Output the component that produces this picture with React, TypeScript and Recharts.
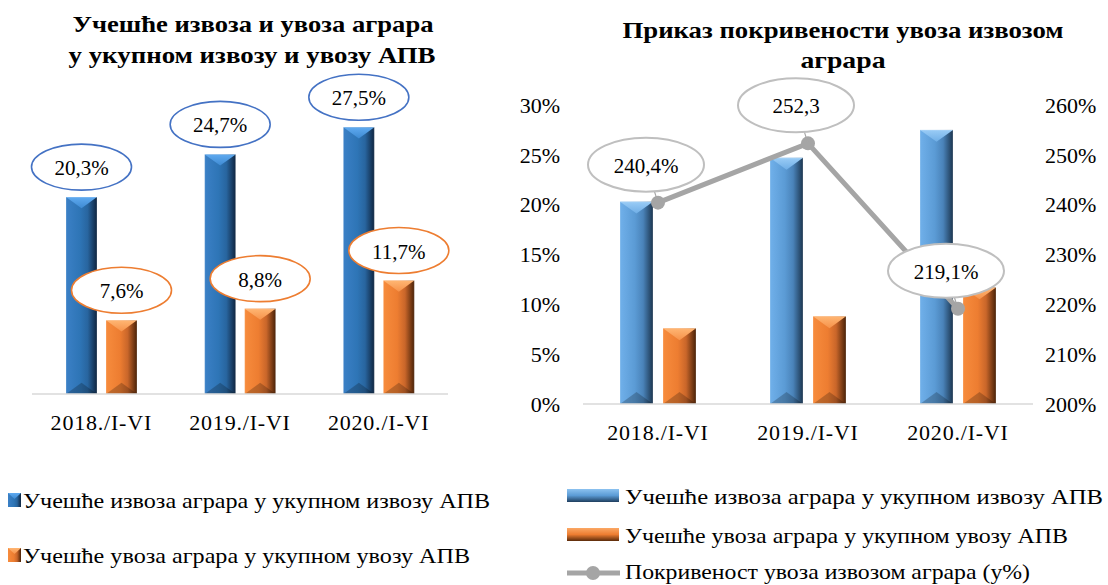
import React from 'react';
import { BarChart, ComposedChart, Bar, Line, XAxis, YAxis, LabelList } from 'recharts';

const categories = ['2018./I-VI', '2019./I-VI', '2020./I-VI'];
const exportShare = [20.3, 24.7, 27.5];
const importShare = [7.6, 8.8, 11.7];
const coverage = [240.4, 252.3, 219.1];
const coverageLabels = ['240,4%', '252,3', '219,1%'];
const leftTicks = [0, 5, 10, 15, 20, 25, 30];
const rightTicks = [200, 210, 220, 230, 240, 250, 260];

const leftTitle = ['Учешће извоза и увоза аграра', 'у укупном извозу и увозу АПВ'];
const rightTitle = ['Приказ покривености увоза извозом', 'аграра'];
const seriesNames = [
  'Учешће извоза аграра у укупном извозу АПВ',
  'Учешће увоза аграра у укупном увозу АПВ',
  'Покривеност увоза извозом аграра (у%)',
];

const data = categories.map((c, i) => ({
  name: c,
  exp: exportShare[i],
  imp: importShare[i],
  cov: coverage[i],
  covLabel: coverageLabels[i],
}));

const FONT = "'Liberation Serif', 'Times New Roman', serif";
const fmt = (v: number) => v.toFixed(1).replace('.', ',') + '%';

const makeBevelBar = (g: string) => (props: any) => {
  const { x, y, width: w, height: h } = props;
  if (!h || h <= 0) return null;
  const b = Math.min(w * 0.36, h / 2);
  return (
    <g>
      <rect x={x} y={y} width={w} height={h} fill={`url(#${g}-h)`} />
      <polygon points={`${x},${y} ${x + w},${y} ${x + w / 2},${y + b}`} fill={`url(#${g}-t)`} />
      <polygon points={`${x},${y + h} ${x + w},${y + h} ${x + w / 2},${y + h - b}`} fill="#000" fillOpacity={0.22} />
      <rect x={x} y={y} width={w} height={h} fill="none" stroke="#fff" strokeOpacity={0.25} strokeWidth={1} />
    </g>
  );
};

const EllipseLabel = (stroke: string) => (props: any) => {
  const { x, y, width, value } = props;
  const cx = x + width / 2;
  const cy = y - 30;
  return (
    <g>
      <ellipse cx={cx} cy={cy} rx={50} ry={23} fill="#fff" stroke={stroke} strokeWidth={1.6} />
      <text x={cx} y={cy + 1} textAnchor="middle" dominantBaseline="central" fontFamily={FONT} fontSize={21} fill="#000">
        {fmt(value)}
      </text>
    </g>
  );
};

const CoverageLabel = (props: any) => {
  const { x, y, value } = props;
  const cx = x - 12;
  const cy = y - 38;
  const rx = 58;
  const ry = 27;
  const dx = x - cx;
  const dy = y - cy;
  const t = 1 / Math.sqrt((dx / rx) ** 2 + (dy / ry) ** 2);
  return (
    <g>
      <line x1={cx + dx * t} y1={cy + dy * t} x2={x} y2={y} stroke="#A6A6A6" strokeWidth={1.2} />
      <ellipse cx={cx} cy={cy} rx={rx} ry={ry} fill="#fff" stroke="#BFBFBF" strokeWidth={2} />
      <text x={cx} y={cy + 1} textAnchor="middle" dominantBaseline="central" fontFamily={FONT} fontSize={21} fill="#000">
        {value}
      </text>
    </g>
  );
};

const Grad = ({ id, stops }: { id: string; stops: [number, string][] }) => (
  <linearGradient id={id} x1="0" y1="0" x2="1" y2="0">
    {stops.map(([o, c], i) => (
      <stop key={i} offset={o} stopColor={c} />
    ))}
  </linearGradient>
);

const tickStyle = { fontFamily: FONT, fontSize: 22, fill: '#000' };

export default function App() {
  return (
    <div style={{ position: 'absolute', left: 0, top: 0, width: 1108, height: 585, background: '#fff', overflow: 'hidden' }}>
      <svg width={0} height={0} style={{ position: 'absolute' }}>
        <defs>
          <Grad id="lb-h" stops={[[0, '#3B80C6'], [0.45, '#2E75B6'], [0.7, '#28659F'], [1, '#0F2540']]} />
          <Grad id="rb-h" stops={[[0, '#70B0EA'], [0.45, '#5B9BD5'], [0.7, '#4A83B9'], [1, '#1C3650']]} />
          <Grad id="or-h" stops={[[0, '#F78C3D'], [0.45, '#ED7D31'], [0.7, '#C9662A'], [1, '#4A2208']]} />
          <linearGradient id="lb-t" x1="0" y1="0" x2="0" y2="1">
            <stop offset={0} stopColor="#5FAAF0" />
            <stop offset={1} stopColor="#3E8AD2" />
          </linearGradient>
          <linearGradient id="rb-t" x1="0" y1="0" x2="0" y2="1">
            <stop offset={0} stopColor="#9ACCF6" />
            <stop offset={1} stopColor="#6FAEE6" />
          </linearGradient>
          <linearGradient id="or-t" x1="0" y1="0" x2="0" y2="1">
            <stop offset={0} stopColor="#FFB673" />
            <stop offset={1} stopColor="#F6924A" />
          </linearGradient>
          <linearGradient id="rb-v" x1="0" y1="0" x2="0" y2="1">
            <stop offset={0} stopColor="#8CC2F0" />
            <stop offset={0.5} stopColor="#5B9BD5" />
            <stop offset={1} stopColor="#1F3E5E" />
          </linearGradient>
          <linearGradient id="or-v" x1="0" y1="0" x2="0" y2="1">
            <stop offset={0} stopColor="#FBA865" />
            <stop offset={0.5} stopColor="#ED7D31" />
            <stop offset={1} stopColor="#5A2A0A" />
          </linearGradient>
        </defs>
      </svg>

      <div style={{ position: 'absolute', left: 0, top: 0 }}>
        <BarChart width={480} height={440} data={data} margin={{ top: 103, left: 32, right: 32, bottom: 0 }} barSize={31} barGap={9}>
          <XAxis
            dataKey="name"
            height={46}
            tickLine={false}
            axisLine={{ stroke: '#D9D9D9', strokeWidth: 1.5 }}
            tick={{ ...tickStyle, letterSpacing: 0.8 }}
            tickMargin={14}
            interval={0}
          />
          <YAxis hide domain={[0, 30]} ticks={leftTicks} />
          <Bar dataKey="exp" isAnimationActive={false} shape={makeBevelBar('lb')}>
            <LabelList dataKey="exp" content={EllipseLabel('#4472C4')} />
          </Bar>
          <Bar dataKey="imp" isAnimationActive={false} shape={makeBevelBar('or')}>
            <LabelList dataKey="imp" content={EllipseLabel('#ED7D31')} />
          </Bar>
        </BarChart>
      </div>

      <div style={{ position: 'absolute', left: 480, top: 0 }}>
        <ComposedChart width={628} height={450} data={data} margin={{ top: 105, left: 0, right: 0, bottom: 0 }} barSize={33} barGap={10}>
          <XAxis
            dataKey="name"
            height={46}
            tickLine={false}
            axisLine={{ stroke: '#D9D9D9', strokeWidth: 1.5 }}
            tick={{ ...tickStyle, letterSpacing: 0.8 }}
            tickMargin={14}
            interval={0}
          />
          <YAxis
            yAxisId="left"
            width={103}
            domain={[0, 30]}
            ticks={leftTicks}
            tickFormatter={(v: number) => `${v}%`}
            axisLine={false}
            tickLine={false}
            tickMargin={17}
            tick={tickStyle}
            interval={0}
          />
          <YAxis
            yAxisId="right"
            orientation="right"
            width={75}
            domain={[200, 260]}
            ticks={rightTicks}
            tickFormatter={(v: number) => `${v}%`}
            axisLine={false}
            tickLine={false}
            tickMargin={6}
            tick={tickStyle}
            interval={0}
          />
          <Bar yAxisId="left" dataKey="exp" isAnimationActive={false} shape={makeBevelBar('rb')} />
          <Bar yAxisId="left" dataKey="imp" isAnimationActive={false} shape={makeBevelBar('or')} />
          <Line
            yAxisId="right"
            dataKey="cov"
            stroke="#A5A5A5"
            strokeWidth={5}
            dot={{ r: 7, fill: '#A5A5A5', stroke: 'none' }}
            isAnimationActive={false}
          >
            <LabelList dataKey="covLabel" content={CoverageLabel} />
          </Line>
        </ComposedChart>
      </div>

      <svg width={1108} height={585} style={{ position: 'absolute', left: 0, top: 0, pointerEvents: 'none' }}>
        <g fontFamily={FONT} fontWeight="bold" fontSize={24} fill="#000" textAnchor="middle">
          <text x={253} y={24} dominantBaseline="central" textLength={361} lengthAdjust="spacingAndGlyphs">{leftTitle[0]}</text>
          <text x={252} y={55} dominantBaseline="central" textLength={367} lengthAdjust="spacingAndGlyphs">{leftTitle[1]}</text>
          <text x={843} y={30} dominantBaseline="central" textLength={441} lengthAdjust="spacingAndGlyphs">{rightTitle[0]}</text>
          <text x={843} y={60} dominantBaseline="central" textLength={85} lengthAdjust="spacingAndGlyphs">{rightTitle[1]}</text>
        </g>

        {/* left legend */}
        <rect x={8} y={493} width={13} height={14} fill="url(#lb-h)" />
        <polygon points="8,493 21,493 14.5,499" fill="url(#lb-t)" />
        <rect x={8} y={548} width={13} height={14} fill="url(#or-h)" />
        <polygon points="8,548 21,548 14.5,554" fill="url(#or-t)" />
        <g fontFamily={FONT} fontSize={22} fill="#000">
          <text x={23} y={500} dominantBaseline="central" textLength={467} lengthAdjust="spacingAndGlyphs">{seriesNames[0]}</text>
          <text x={23} y={555} dominantBaseline="central" textLength={447} lengthAdjust="spacingAndGlyphs">{seriesNames[1]}</text>
        </g>

        {/* right legend */}
        <rect x={567} y={489} width={52} height={13} fill="url(#rb-v)" />
        <rect x={567} y={528} width={52} height={13} fill="url(#or-v)" />
        <line x1={567} y1={573} x2={620} y2={573} stroke="#A5A5A5" strokeWidth={5} />
        <circle cx={593} cy={573} r={7} fill="#A5A5A5" />
        <g fontFamily={FONT} fontSize={22} fill="#000">
          <text x={625} y={496} dominantBaseline="central" textLength={478} lengthAdjust="spacingAndGlyphs">{seriesNames[0]}</text>
          <text x={625} y={535} dominantBaseline="central" textLength={443} lengthAdjust="spacingAndGlyphs">{seriesNames[1]}</text>
          <text x={625} y={571} dominantBaseline="central" textLength={405} lengthAdjust="spacingAndGlyphs">{seriesNames[2]}</text>
        </g>
      </svg>
    </div>
  );
}
